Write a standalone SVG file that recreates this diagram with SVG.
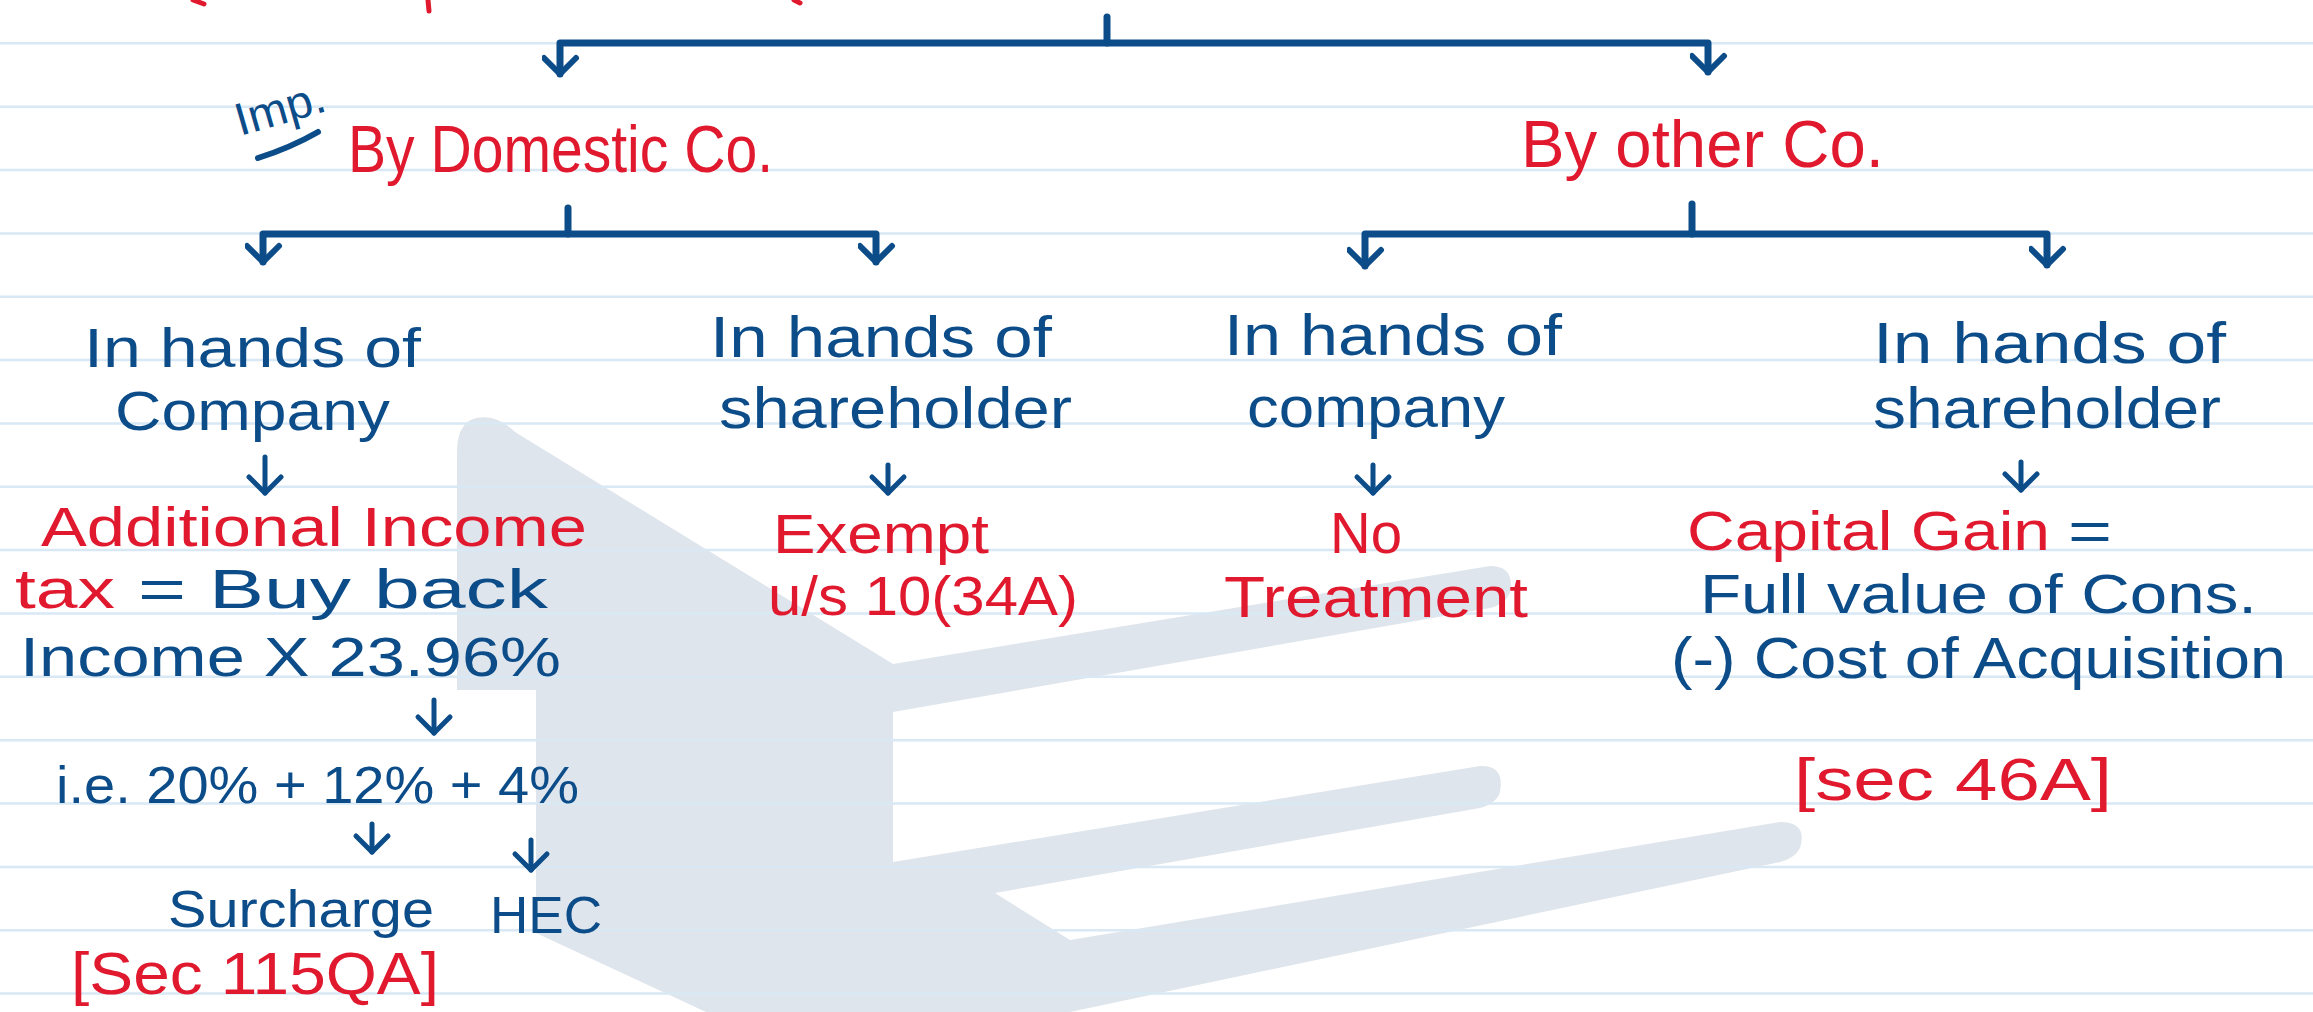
<svg xmlns="http://www.w3.org/2000/svg" width="2313" height="1012" viewBox="0 0 2313 1012">
<defs>
<style>
.b{fill:#0b4c89}
.r{fill:#e1192e}
text{font-family:"Liberation Sans",Arial,sans-serif}
.con{fill:none;stroke:#0b4c89;stroke-width:7;stroke-linecap:round;stroke-linejoin:round}
.sm{fill:none;stroke:#0b4c89;stroke-width:5;stroke-linecap:round;stroke-linejoin:round}
.rule{stroke:#d8e8f4;stroke-width:2.5}
.frag{fill:none;stroke:#e1192e;stroke-width:5;stroke-linecap:round}
</style>
<marker id="av" markerUnits="userSpaceOnUse" markerWidth="40" markerHeight="40" refX="20" refY="22" orient="auto-start-reverse" viewBox="0 0 40 40">
<path d="M4,6 L20,22 L4,38" fill="none" stroke="#0b4c89" stroke-width="6" stroke-linecap="round" stroke-linejoin="round"/>
</marker>
<marker id="as" markerUnits="userSpaceOnUse" markerWidth="40" markerHeight="40" refX="20" refY="20" orient="auto" viewBox="0 0 40 40">
<path d="M4,4 L20,20 L4,36" fill="none" stroke="#0b4c89" stroke-width="5" stroke-linecap="round" stroke-linejoin="round"/>
</marker>
</defs>
<rect width="2313" height="1012" fill="#ffffff"/>
<g id="watermark">
<path d="M457,690 L457,450 Q458,412 492,418 Q505,422 515,432 L893,664 L1490,566 Q1515,566 1510,592 Q1506,604 1490,608 L893,712 L893,862 L1480,766 Q1505,765 1500,792 Q1497,803 1480,808 L995,893 L1070,940 L1780,822 Q1808,822 1800,848 Q1795,858 1780,862 L1070,1012 L706,1012 L536,933 L536,690 Z" fill="#dfe5ec"/>
</g>
<g id="rules">
<line class="rule" x1="0" y1="43.3" x2="2313" y2="43.3"/>
<line class="rule" x1="0" y1="106.7" x2="2313" y2="106.7"/>
<line class="rule" x1="0" y1="170" x2="2313" y2="170"/>
<line class="rule" x1="0" y1="233.4" x2="2313" y2="233.4"/>
<line class="rule" x1="0" y1="296.7" x2="2313" y2="296.7"/>
<line class="rule" x1="0" y1="360.1" x2="2313" y2="360.1"/>
<line class="rule" x1="0" y1="423.4" x2="2313" y2="423.4"/>
<line class="rule" x1="0" y1="486.8" x2="2313" y2="486.8"/>
<line class="rule" x1="0" y1="550.1" x2="2313" y2="550.1"/>
<line class="rule" x1="0" y1="613.5" x2="2313" y2="613.5"/>
<line class="rule" x1="0" y1="676.8" x2="2313" y2="676.8"/>
<line class="rule" x1="0" y1="740.2" x2="2313" y2="740.2"/>
<line class="rule" x1="0" y1="803.5" x2="2313" y2="803.5"/>
<line class="rule" x1="0" y1="866.9" x2="2313" y2="866.9"/>
<line class="rule" x1="0" y1="930.2" x2="2313" y2="930.2"/>
<line class="rule" x1="0" y1="993.6" x2="2313" y2="993.6"/>
</g>
<g id="top-fragments">
<path class="frag" d="M193,0 L204,4"/>
<path class="frag" d="M428,0 L429,11"/>
<path class="frag" d="M794,0 L800,3"/>
</g>
<g id="connectors">
<path class="con" d="M560,74 V43 H1708 V72" marker-start="url(#av)" marker-end="url(#av)"/>
<path class="con" d="M1107,17 V43"/>
<path class="con" d="M263,262 V234 H876 V262" marker-start="url(#av)" marker-end="url(#av)"/>
<path class="con" d="M568,208 V234"/>
<path class="con" d="M1365,266 V234 H2047 V265" marker-start="url(#av)" marker-end="url(#av)"/>
<path class="con" d="M1692,204 V234"/>
<path class="sm" d="M265,457 V493" marker-end="url(#as)"/>
<path class="sm" d="M888,465 V493" marker-end="url(#as)"/>
<path class="sm" d="M1373,465 V493" marker-end="url(#as)"/>
<path class="sm" d="M2021,462 V490" marker-end="url(#as)"/>
<path class="sm" d="M434,700 V733" marker-end="url(#as)"/>
<path class="sm" d="M372,824 V852" marker-end="url(#as)"/>
<path class="sm" d="M531,840 V870" marker-end="url(#as)"/>
</g>
<g id="imp-note">
<text class="b" x="240" y="136" font-size="46" textLength="92" lengthAdjust="spacingAndGlyphs" transform="rotate(-16 240 136)">Imp.</text>
<path d="M258,158 Q290,148 318,132" fill="none" stroke="#0b4c89" stroke-width="6" stroke-linecap="round"/>
</g>
<g id="node-domestic">
<text class="r" x="348" y="172" font-size="66" textLength="425" lengthAdjust="spacingAndGlyphs">By Domestic Co.</text>
</g>
<g id="node-other">
<text class="r" x="1521" y="167" font-size="66" textLength="363" lengthAdjust="spacingAndGlyphs">By other Co.</text>
</g>
<g id="node-dom-company">
<text class="b" x="84" y="367" font-size="55" textLength="337" lengthAdjust="spacingAndGlyphs">In hands of</text>
<text class="b" x="115" y="430" font-size="55" textLength="275" lengthAdjust="spacingAndGlyphs">Company</text>
</g>
<g id="node-dom-company-result">
<text class="r" x="41" y="546" font-size="55" textLength="546" lengthAdjust="spacingAndGlyphs">Additional Income</text>
<text class="r" x="15" y="608" font-size="55" textLength="100" lengthAdjust="spacingAndGlyphs">tax</text>
<text class="b" x="138" y="608" font-size="55" textLength="410" lengthAdjust="spacingAndGlyphs">= Buy back</text>
<text class="b" x="20" y="676" font-size="56" textLength="541" lengthAdjust="spacingAndGlyphs">Income X 23.96%</text>
</g>
<g id="node-ie">
<text class="b" x="56" y="803" font-size="52" textLength="523" lengthAdjust="spacingAndGlyphs">i.e. 20% + 12% + 4%</text>
</g>
<g id="node-surcharge">
<text class="b" x="168" y="927" font-size="52" textLength="266" lengthAdjust="spacingAndGlyphs">Surcharge</text>
</g>
<g id="node-hec">
<text class="b" x="490" y="933" font-size="52" textLength="112" lengthAdjust="spacingAndGlyphs">HEC</text>
</g>
<g id="node-sec115qa">
<text class="r" x="71" y="994" font-size="60" textLength="368" lengthAdjust="spacingAndGlyphs">[Sec 115QA]</text>
</g>
<g id="node-dom-shareholder">
<text class="b" x="710" y="357" font-size="58" textLength="342" lengthAdjust="spacingAndGlyphs">In hands of</text>
<text class="b" x="719" y="428" font-size="58" textLength="353" lengthAdjust="spacingAndGlyphs">shareholder</text>
</g>
<g id="node-exempt">
<text class="r" x="773" y="553" font-size="55" textLength="216" lengthAdjust="spacingAndGlyphs">Exempt</text>
<text class="r" x="768" y="615" font-size="55" textLength="310" lengthAdjust="spacingAndGlyphs">u/s 10(34A)</text>
</g>
<g id="node-oth-company">
<text class="b" x="1224" y="355" font-size="58" textLength="338" lengthAdjust="spacingAndGlyphs">In hands of</text>
<text class="b" x="1247" y="427" font-size="58" textLength="258" lengthAdjust="spacingAndGlyphs">company</text>
</g>
<g id="node-no-treatment">
<text class="r" x="1330" y="553" font-size="57" textLength="72" lengthAdjust="spacingAndGlyphs">No</text>
<text class="r" x="1224" y="617" font-size="57" textLength="304" lengthAdjust="spacingAndGlyphs">Treatment</text>
</g>
<g id="node-oth-shareholder">
<text class="b" x="1873" y="363" font-size="57" textLength="353" lengthAdjust="spacingAndGlyphs">In hands of</text>
<text class="b" x="1873" y="428" font-size="57" textLength="348" lengthAdjust="spacingAndGlyphs">shareholder</text>
</g>
<g id="node-capital-gain">
<text class="r" x="1687" y="550" font-size="56" textLength="363" lengthAdjust="spacingAndGlyphs">Capital Gain</text>
<text class="b" x="2068" y="550" font-size="56" textLength="44" lengthAdjust="spacingAndGlyphs">=</text>
<text class="b" x="1700" y="613" font-size="56" textLength="557" lengthAdjust="spacingAndGlyphs">Full value of Cons.</text>
<text class="b" x="1671" y="678" font-size="57" textLength="615" lengthAdjust="spacingAndGlyphs">(-) Cost of Acquisition</text>
</g>
<g id="node-sec46a">
<text class="r" x="1794" y="800" font-size="60" textLength="318" lengthAdjust="spacingAndGlyphs">[sec 46A]</text>
</g>
</svg>
